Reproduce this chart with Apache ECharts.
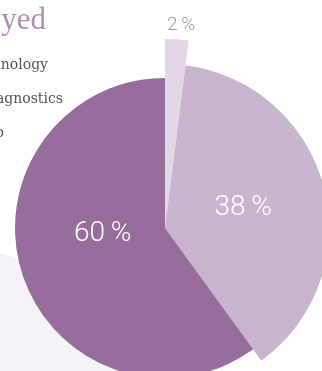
<!DOCTYPE html>
<html>
<head>
<meta charset="utf-8">
<script src="https://cdn.jsdelivr.net/npm/echarts@6/dist/echarts.min.js"></script>
<style>
  html, body { margin: 0; padding: 0; background: #fff; }
  #chart { width: 322px; height: 371px; }
</style>
</head>
<body>
<div id="chart"></div>
<script>
// slices, clockwise from 12 o'clock
const names = ['Other', 'Diagnostics', 'Technology']
const values = [2, 38, 60]
const colors = ['#e3d7e7', '#c9b4cd', '#976d9b']
// each slice is drawn with its own outer radius
const radii = [189, 164, 150]

const titleText = 'Employed'
const legendLabels = ['Technology', 'Diagnostics', 'Radio']

// label nudges per slice
const labelOffsets = [[10, -105], [-4, 1], [12, -18]]
const labelStyles = [
  { color: '#9a9a9a', fontSize: 19 },
  { color: '#ffffff', fontSize: 28 },
  { color: '#ffffff', fontSize: 28 },
]

const chart = echarts.init(document.getElementById('chart'), null, { renderer: 'canvas' })

const series = values.map((_, i) => ({
  type: 'pie',
  center: [165, 228],
  radius: [0, radii[i]],
  startAngle: 90,
  clockwise: true,
  silent: true,
  animation: false,
  avoidLabelOverlap: false,
  labelLine: { show: false },
  emphasis: { disabled: true },
  z: 2,
  data: values.map((v, j) => ({
    name: names[j],
    value: v,
    itemStyle: { color: j === i ? colors[j] : 'rgba(0,0,0,0)' },
    label: j === i
      ? {
          show: true,
          position: 'inside',
          offset: labelOffsets[j],
          formatter: '{c}\u2009%',
          fontFamily: 'Roboto',
          fontWeight: 300,
          ...labelStyles[j],
        }
      : { show: false },
  })),
}))

const graphic = [
  {
    type: 'circle',
    shape: { cx: -100, cy: 600, r: 361 },
    style: { fill: '#f5f3f7' },
    z: -10,
    silent: true,
  },
  {
    type: 'text',
    x: 46,
    y: 36,
    style: {
      text: titleText,
      fill: '#b48bb8',
      font: '31px "Liberation Serif"',
      textAlign: 'right',
      textVerticalAlign: 'bottom',
    },
  },
  ...legendLabels.map((t, i) => ({
    type: 'text',
    x: [48, 63, 4][i],
    y: 72 + i * 34,
    style: {
      text: t,
      fill: '#555555',
      font: '14px "DejaVu Serif"',
      textAlign: 'right',
      textVerticalAlign: 'bottom',
    },
  })),
]

chart.setOption({
  backgroundColor: '#ffffff',
  animation: false,
  graphic,
  series,
})
</script>
</body>
</html>
